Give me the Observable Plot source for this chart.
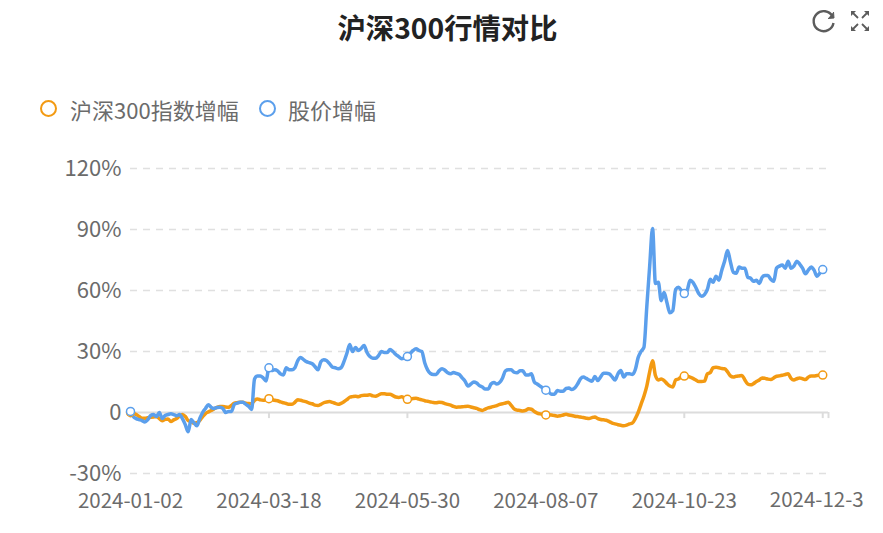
<!DOCTYPE html>
<html lang="zh">
<head>
<meta charset="utf-8">
<script src="https://cdn.jsdelivr.net/npm/d3@7"></script>
<script src="https://cdn.jsdelivr.net/npm/@observablehq/plot@0.6"></script>
<style>
html,body{margin:0;padding:0;background:#fff;overflow:hidden;}
body{width:883px;height:533px;position:relative;font-family:"Noto Sans CJK SC","Noto Sans",sans-serif;}
#head{position:relative;height:140px;}
#title{position:absolute;left:0;width:895px;top:6px;text-align:center;font-size:28.3px;font-weight:700;color:#222;line-height:42px;}
.lg{position:absolute;top:90px;font-size:22px;line-height:38px;color:#6b6b6b;white-space:nowrap;}
.dot{position:absolute;top:100px;width:13px;height:13px;border-radius:50%;border:2px solid;box-sizing:content-box;}
#icons{position:absolute;left:808px;top:6px;}
#chart svg{display:block;}
</style>
</head>
<body>
<div id="head">
  <div id="title">沪深300行情对比</div>
  <div class="dot" style="left:40px;border-color:#f39a12"></div>
  <div class="lg" style="left:70px">沪深300指数增幅</div>
  <div class="dot" style="left:259px;border-color:#5b9fec"></div>
  <div class="lg" style="left:288px">股价增幅</div>
  <svg id="icons" width="70" height="30" viewBox="0 0 70 30" fill="none" stroke="#5c5c5c" stroke-width="2.4">
    <path d="M24.5 10.5A10 10 0 1 0 25.5 17"/>
    <path d="M20 12.5L26 12L25.5 6" fill="#5c5c5c" stroke-width="1"/>
    <path d="M44.5 6.5L50 12M59.5 6.5L54 12M44.5 23.5L50 18M59.5 23.5L54 18" stroke-width="1.8"/>
    <path d="M43 5h5l-5 5zM61 5h-5l5 5zM43 25h5l-5-5zM61 25h-5l5-5z" fill="#5c5c5c" stroke="none"/>
  </svg>
</div>
<div id="chart"></div>
<script>
const indexName = "沪深300指数增幅";
const stockName = "股价增幅";
const tickValues = [-30, 30, 60, 90, 120];
const yLabels = [-30, 0, 30, 60, 90, 120];
const tickIdx = [0, 48, 96, 144, 192, 240];
const tickDates = ["2024-01-02", "2024-03-18", "2024-05-30", "2024-08-07", "2024-10-23", "2024-12-3"];

const indexSeries = [
 0,-0.3,-1,-2,-2.8,-2.8,-2.6,-2.4,-2.2,-2,-3,-4,-3.4,-3.2,-4.4,-3.6,-3,-1.8,-1,-2,-4,-4.5,-5.3,-5,-4,-2,-0.5,0.3,1,1.8,2.5,3,3,2.7,2.6,3.5,4.6,4.8,5,5,4.6,4.4,4.3,6,6.7,6.2,6,6.3,6.8,
 6.5,6,5.8,5.2,4.8,4.4,4,4,5,6.3,6,5.6,5.2,4.6,4.3,3.6,3.4,4,4.8,5.2,5.4,5,4.5,4,4.5,5.3,6.3,7.5,7.8,8,7.8,8.3,8.5,8.5,8.7,8.2,8,8.6,9.2,9.2,9,9,8.3,7.6,7.4,7.7,7.2,6.5,
 6.6,6.9,7,6.6,6.2,5.8,5.5,5.2,4.9,4.8,5,4.9,4.4,4,3.6,3,2.6,2.7,2.8,3,3.1,2.7,2.3,2,1.4,1,1.7,2.3,2.6,3,3.4,4,4.3,4.7,5,3.5,1.8,1.2,1,0.7,1,1.8,1.6,0.5,-0.3,-0.7,-1,-1.2,
 -1.1,-1.2,-1.5,-1.8,-1.6,-1.2,-0.9,-1.2,-1.5,-1.8,-2,-2.2,-2.5,-2.8,-3,-2.5,-2.2,-3,-3.4,-3.6,-3.8,-4.5,-5.2,-5.6,-6,-6.3,-6.5,-6.2,-5.6,-5.2,-3,0,4,8,13,20,25.5,
 18.2,16,16.5,15.7,14.2,13,12.6,16,16.5,17.5,17.9,17.7,17.4,16.8,16,15.2,15.2,15.4,19,19.6,22,22.2,22,21.6,21.5,20,18,17.4,17.8,18,18.2,16,14,13.6,14.2,15.2,16,17,16.8,16.4,16.2,17,17.8,18,18.3,18.7,19,16.8,16,16.6,17,16.6,16.2,17.4,18,18,18.2,18.3,18.4
];
const stockSeries = [
 0.5,-2,-3,-3.5,-4,-4.7,-3.5,-1.5,-1,-2,0,-3,-1.5,-1,-0.6,-1,-1.6,-1,-3,-6,-9.5,-3.5,-5,-6.5,-3,0,2,3.8,2.5,2,2.5,2.6,2,0,0.5,0.5,4,4.6,5,5,4,3,1.5,16.5,18,18,17,15.5,22,
 20.6,21,20.5,19,18.5,22,21,21,22,25.5,27,26,25,24.5,24,22.5,21,25,26,25.5,24,22.3,22,21.5,22,25,29,33.5,30,32,30.5,31.5,33,29.5,27.5,26.7,26.7,28,30,29.5,29.5,31,30,28.5,27.5,26.4,26.8,27.5,
 29,30.5,31.3,30.5,30,24.5,21,19.2,18.7,18.7,20.5,21.5,20.8,19.5,19,19.7,19.2,18.7,17,15.4,13,14,15,14.5,13.2,12.5,11.5,11.5,14,14.8,14,14.8,17,20.5,21,21,19.8,19.5,20.5,20.5,18.5,18.5,19,15,14,13,12,11,
 10,9,9,10.8,10.5,10.5,11.8,12,11.3,12,14,16.5,17.4,16.8,16,15.4,17.7,15.7,17.5,19.3,19.3,19,17.5,16,19,20.6,17.4,19,19,18.7,21,27,30,32,52,72,90.5,
 63.5,64,55,59,54,49,50,60.5,61.6,60,58.5,60,65,64,61.5,58.5,57.2,58,60.5,65.5,64,67,65,70,74.5,79.7,74,69,68.5,71.5,71,71,66.5,66,64.5,65,63.5,66.5,67.4,67.4,65.5,64.5,71,72,72.5,71,74.4,71,72,74.4,73,71,68.2,70,71.5,70,67,68.5,70.3
];

const toRows = (vals, name) => vals.map((v, i) => ({i, v, name}));
const indexRows = toRows(indexSeries, indexName);
const stockRows = toRows(stockSeries, stockName);
const orange = "#f39a12", blue = "#5b9fec";
const fontFam = '"Noto Sans CJK SC","Noto Sans",sans-serif';

const plot = Plot.plot({
  width: 883,
  height: 393,
  marginLeft: 130,
  marginRight: 55,
  marginTop: 28,
  marginBottom: 60,
  style: {fontFamily: fontFam, background: "#fff"},
  x: {domain: [0, 242]},
  y: {domain: [-30, 120]},
  marks: [
    Plot.ruleY(tickValues, {stroke: "#e0e0e0", strokeWidth: 1.5, strokeDasharray: "7,6"}),
    Plot.ruleY([0], {stroke: "#dcdcdc", strokeWidth: 2}),
    Plot.ruleX([...tickIdx, 242], {y1: 0, y2: -3, stroke: "#dcdcdc", strokeWidth: 2}),
    Plot.axisY({ticks: yLabels, tickSize: 0, tickPadding: 9, label: null, fontSize: 22, color: "#6b6b6b",
      tickFormat: d => d === 0 ? "0" : d + "%"}),
    Plot.axisX({ticks: tickIdx.slice(0, 5), tickSize: 0, tickPadding: 20, label: null, fontSize: 20.5, color: "#6b6b6b",
      tickFormat: d => tickDates[tickIdx.indexOf(d)]}),
    Plot.text([5], {x: d => tickIdx[d], frameAnchor: "bottom", dy: 33.5, dx: -6, text: d => tickDates[d], fontSize: 20.5, fill: "#6b6b6b", textAnchor: "middle"}),
    Plot.line(indexRows, {x: "i", y: "v", stroke: orange, strokeWidth: 3.5, curve: "monotone-x"}),
    Plot.line(stockRows, {x: "i", y: "v", stroke: blue, strokeWidth: 3.5, curve: "monotone-x"}),
    Plot.dot(indexRows.filter(d => tickIdx.includes(d.i)), {x: "i", y: "v", r: 4, fill: "#fff", stroke: orange, strokeWidth: 1.5}),
    Plot.dot(stockRows.filter(d => tickIdx.includes(d.i)), {x: "i", y: "v", r: 4, fill: "#fff", stroke: blue, strokeWidth: 1.5})
  ]
});
document.getElementById("chart").appendChild(plot);
</script>
</body>
</html>
